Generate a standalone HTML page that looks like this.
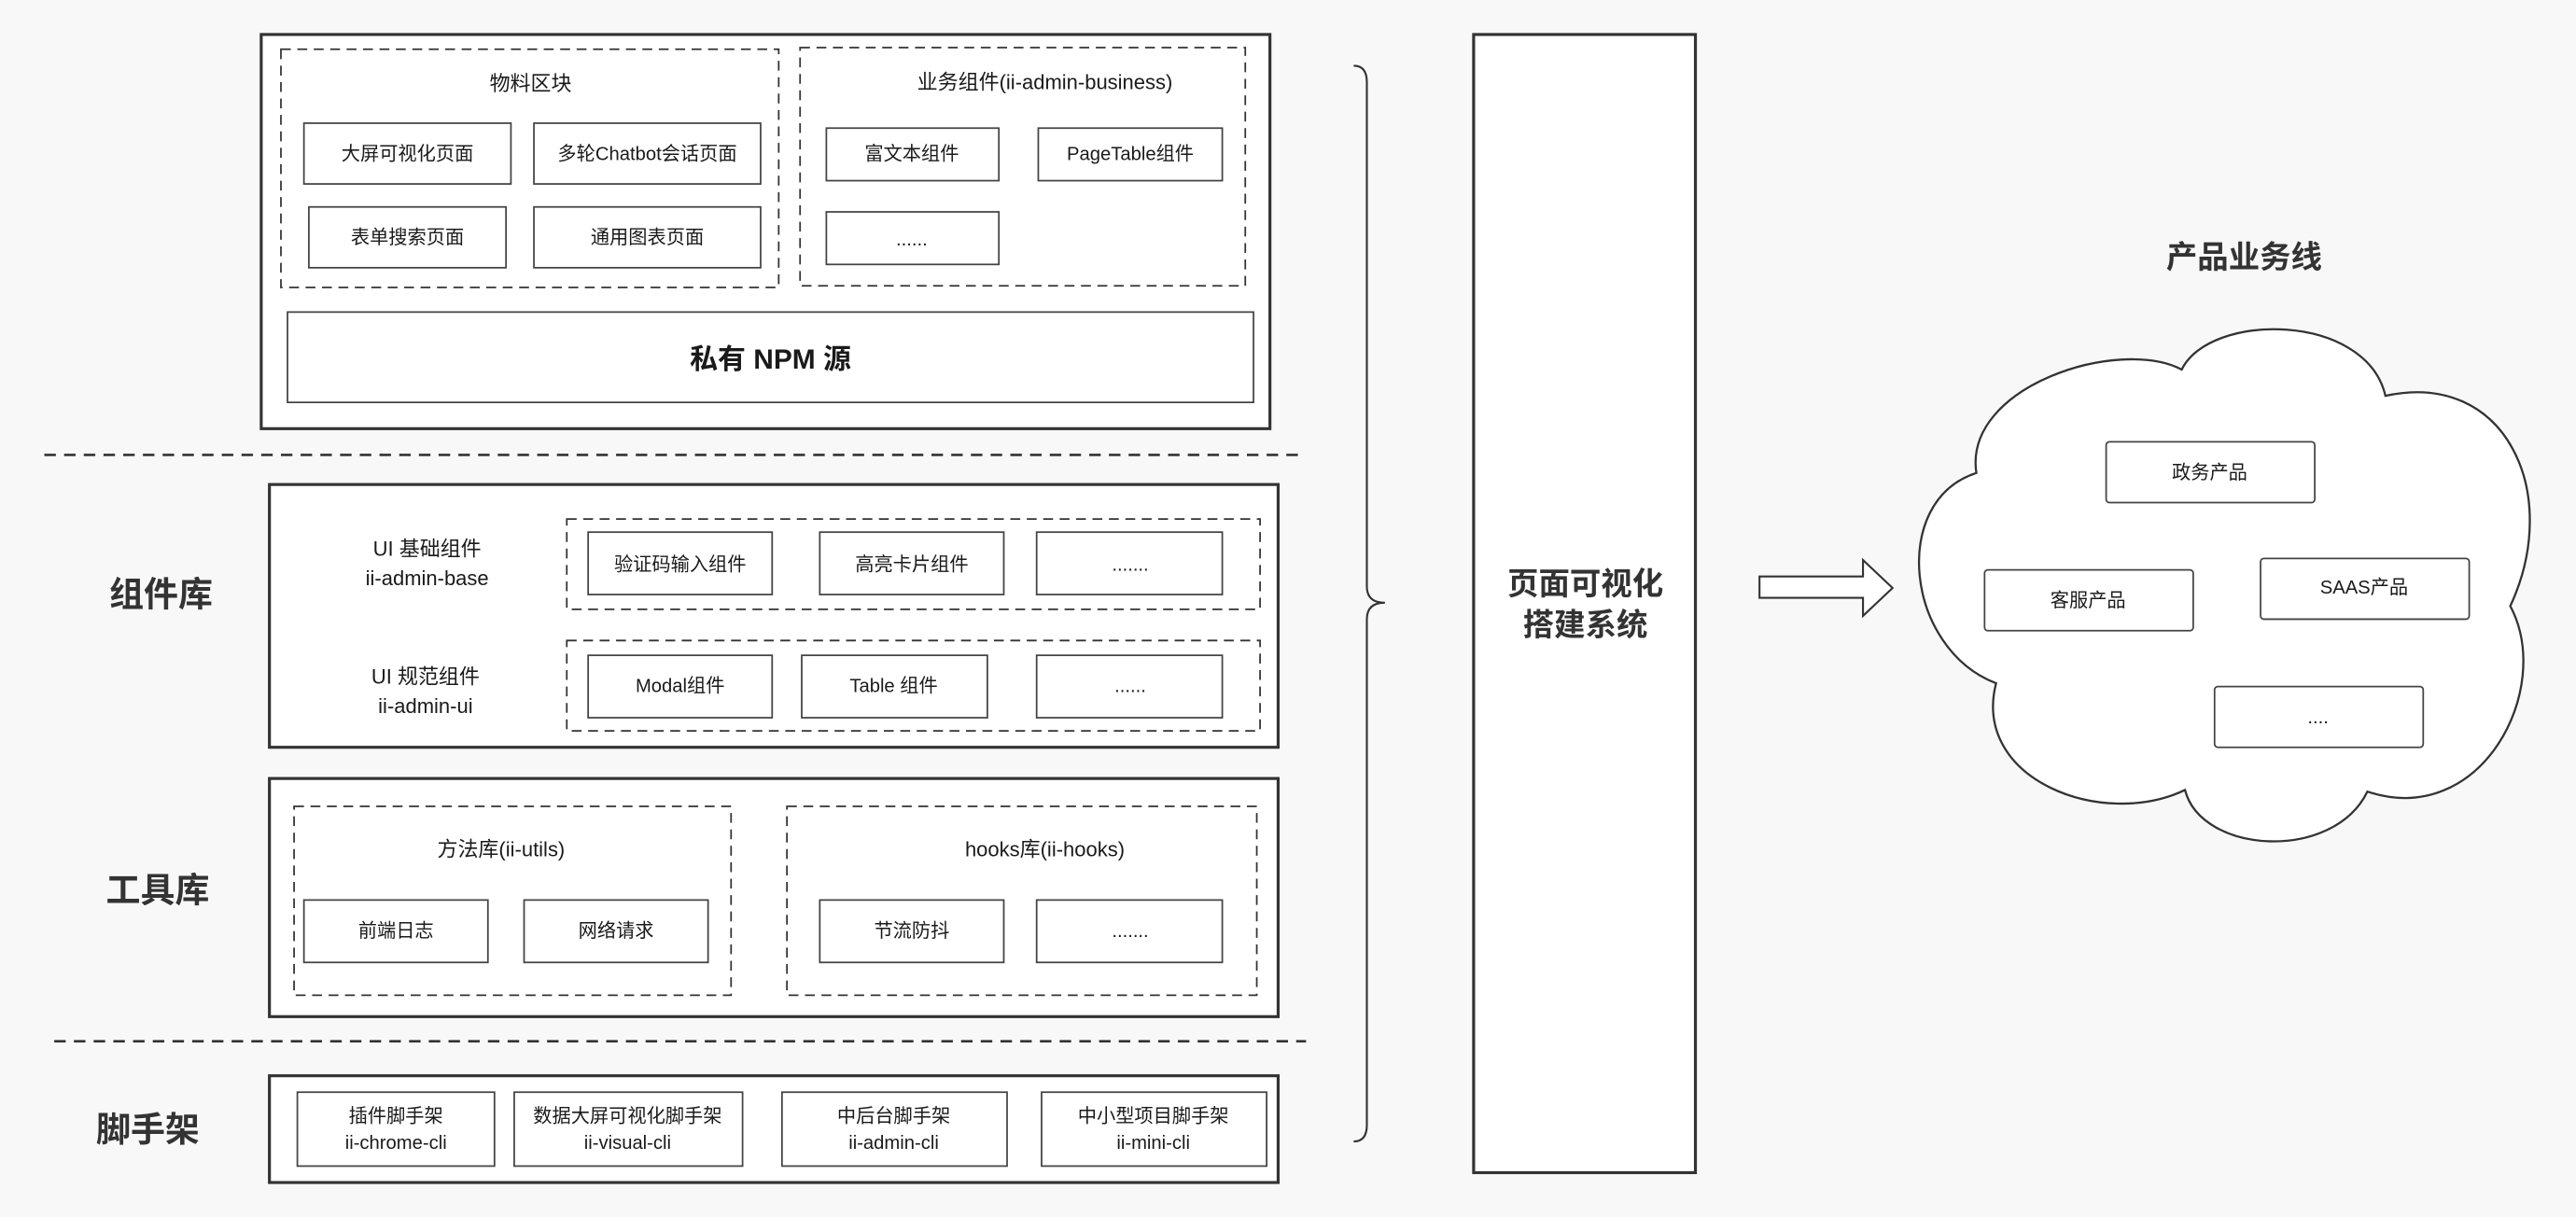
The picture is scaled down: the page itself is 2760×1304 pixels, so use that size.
<!DOCTYPE html>
<html><head><meta charset="utf-8"><style>
html,body{margin:0;padding:0;background:#f8f8f8;}
svg{display:block;}
text{font-family:"Liberation Sans","Noto Sans CJK SC",sans-serif;fill:#1a1a1a;text-anchor:middle;dominant-baseline:central;}
.s{font-size:11.5px;}
.t{font-size:12.5px;}
.b{font-size:21px;font-weight:bold;fill:#333;}
.box{fill:#fff;stroke:#444;stroke-width:1;}
.outer{fill:#fff;stroke:#333;stroke-width:1.8;}
.dash{fill:none;stroke:#333;stroke-width:1;stroke-dasharray:6 4;}
.sep{stroke:#333;stroke-width:1.5;stroke-dasharray:7 5;}
</style></head><body>
<svg width="2760" height="1304" viewBox="0 0 1568 741" preserveAspectRatio="none" xmlns="http://www.w3.org/2000/svg">
<rect x="0" y="0" width="1568" height="741" fill="#f8f8f8"/>
<rect class="outer" x="159" y="21" width="614" height="240"/>
<rect class="dash" x="171" y="30" width="303" height="145"/>
<text class="t" x="323" y="51">物料区块</text>
<rect class="box" x="185" y="75" width="126" height="37"/><text class="s" x="248" y="94">大屏可视化页面</text>
<rect class="box" x="325" y="75" width="138" height="37"/><text class="s" x="394" y="94">多轮Chatbot会话页面</text>
<rect class="box" x="188" y="126" width="120" height="37"/><text class="s" x="248" y="145">表单搜索页面</text>
<rect class="box" x="325" y="126" width="138" height="37"/><text class="s" x="394" y="145">通用图表页面</text>
<rect class="dash" x="487" y="29" width="271" height="145"/>
<text class="t" x="636" y="50">业务组件(ii-admin-business)</text>
<rect class="box" x="503" y="78" width="105" height="32"/><text class="s" x="555" y="94">富文本组件</text>
<rect class="box" x="632" y="78" width="112" height="32"/><text class="s" x="688" y="94">PageTable组件</text>
<rect class="box" x="503" y="129" width="105" height="32"/><text class="s" x="555" y="146">......</text>
<rect class="box" x="175" y="190" width="588" height="55"/>
<text x="469" y="219" style="font-size:17px;font-weight:bold;">私有 NPM 源</text>
<line class="sep" x1="27" y1="277" x2="795" y2="277"/>
<text class="b" x="98" y="362">组件库</text>
<rect class="outer" x="164" y="295" width="614" height="160"/>
<text class="t" x="260" y="334">UI 基础组件</text>
<text class="t" x="260" y="352">ii-admin-base</text>
<rect class="dash" x="345" y="316" width="422" height="55"/>
<rect class="box" x="358" y="324" width="112" height="38"/><text class="s" x="414" y="344">验证码输入组件</text>
<rect class="box" x="499" y="324" width="112" height="38"/><text class="s" x="555" y="344">高亮卡片组件</text>
<rect class="box" x="631" y="324" width="113" height="38"/><text class="s" x="688" y="344">.......</text>
<text class="t" x="259" y="412">UI 规范组件</text>
<text class="t" x="259" y="430">ii-admin-ui</text>
<rect class="dash" x="345" y="390" width="422" height="55"/>
<rect class="box" x="358" y="399" width="112" height="38"/><text class="s" x="414" y="418">Modal组件</text>
<rect class="box" x="488" y="399" width="113" height="38"/><text class="s" x="544" y="418">Table 组件</text>
<rect class="box" x="631" y="399" width="113" height="38"/><text class="s" x="688" y="418">......</text>
<text class="b" x="96" y="542">工具库</text>
<rect class="outer" x="164" y="474" width="614" height="145"/>
<rect class="dash" x="179" y="491" width="266" height="115"/>
<text class="t" x="305" y="517">方法库(ii-utils)</text>
<rect class="box" x="185" y="548" width="112" height="38"/><text class="s" x="241" y="567">前端日志</text>
<rect class="box" x="319" y="548" width="112" height="38"/><text class="s" x="375" y="567">网络请求</text>
<rect class="dash" x="479" y="491" width="286" height="115"/>
<text class="t" x="636" y="517">hooks库(ii-hooks)</text>
<rect class="box" x="499" y="548" width="112" height="38"/><text class="s" x="555" y="567">节流防抖</text>
<rect class="box" x="631" y="548" width="113" height="38"/><text class="s" x="688" y="567">.......</text>
<line class="sep" x1="33" y1="634" x2="795" y2="634"/>
<text class="b" x="90" y="688">脚手架</text>
<rect class="outer" x="164" y="655" width="614" height="65"/>
<rect class="box" x="181" y="665" width="120" height="45"/><text class="s" x="241" y="680">插件脚手架</text><text class="s" x="241" y="696">ii-chrome-cli</text>
<rect class="box" x="313" y="665" width="139" height="45"/><text class="s" x="382" y="680">数据大屏可视化脚手架</text><text class="s" x="382" y="696">ii-visual-cli</text>
<rect class="box" x="476" y="665" width="137" height="45"/><text class="s" x="544" y="680">中后台脚手架</text><text class="s" x="544" y="696">ii-admin-cli</text>
<rect class="box" x="634" y="665" width="137" height="45"/><text class="s" x="702" y="680">中小型项目脚手架</text><text class="s" x="702" y="696">ii-mini-cli</text>
<path d="M824,40 Q832,40 832,50 L832,357 Q832,367 843,367 Q832,367 832,377 L832,685 Q832,695 824,695" fill="none" stroke="#333" stroke-width="1.2"/>
<rect class="outer" x="897" y="21" width="135" height="693"/>
<text x="965" y="356" style="font-size:19px;font-weight:bold;fill:#333;">页面可视化</text>
<text x="965" y="381" style="font-size:19px;font-weight:bold;fill:#333;">搭建系统</text>
<path d="M1071,351 L1134,351 L1134,341 L1152,358 L1134,375 L1134,364 L1071,364 Z" fill="#fff" stroke="#333" stroke-width="1.2"/>
<text x="1366" y="157" style="font-size:19px;font-weight:bold;fill:#333;">产品业务线</text>
<path d="M1203,288 C1195,235 1290,205 1328,225 C1345,190 1440,190 1452,241 C1525,225 1560,300 1528,369 C1555,420 1510,505 1441,482 C1420,525 1340,520 1330,481 C1280,505 1200,475 1215,416 C1160,395 1150,305 1203,288 Z" fill="#fff" stroke="#333" stroke-width="1.3"/>
<rect class="box" x="1282" y="269" width="127" height="37" rx="2"/><text class="s" x="1345" y="288">政务产品</text>
<rect class="box" x="1208" y="347" width="127" height="37" rx="2"/><text class="s" x="1271" y="366">客服产品</text>
<rect class="box" x="1376" y="340" width="127" height="37" rx="2"/><text class="s" x="1439" y="358">SAAS产品</text>
<rect class="box" x="1348" y="418" width="127" height="37" rx="2"/><text class="s" x="1411" y="437">....</text>
</svg>
</body></html>
